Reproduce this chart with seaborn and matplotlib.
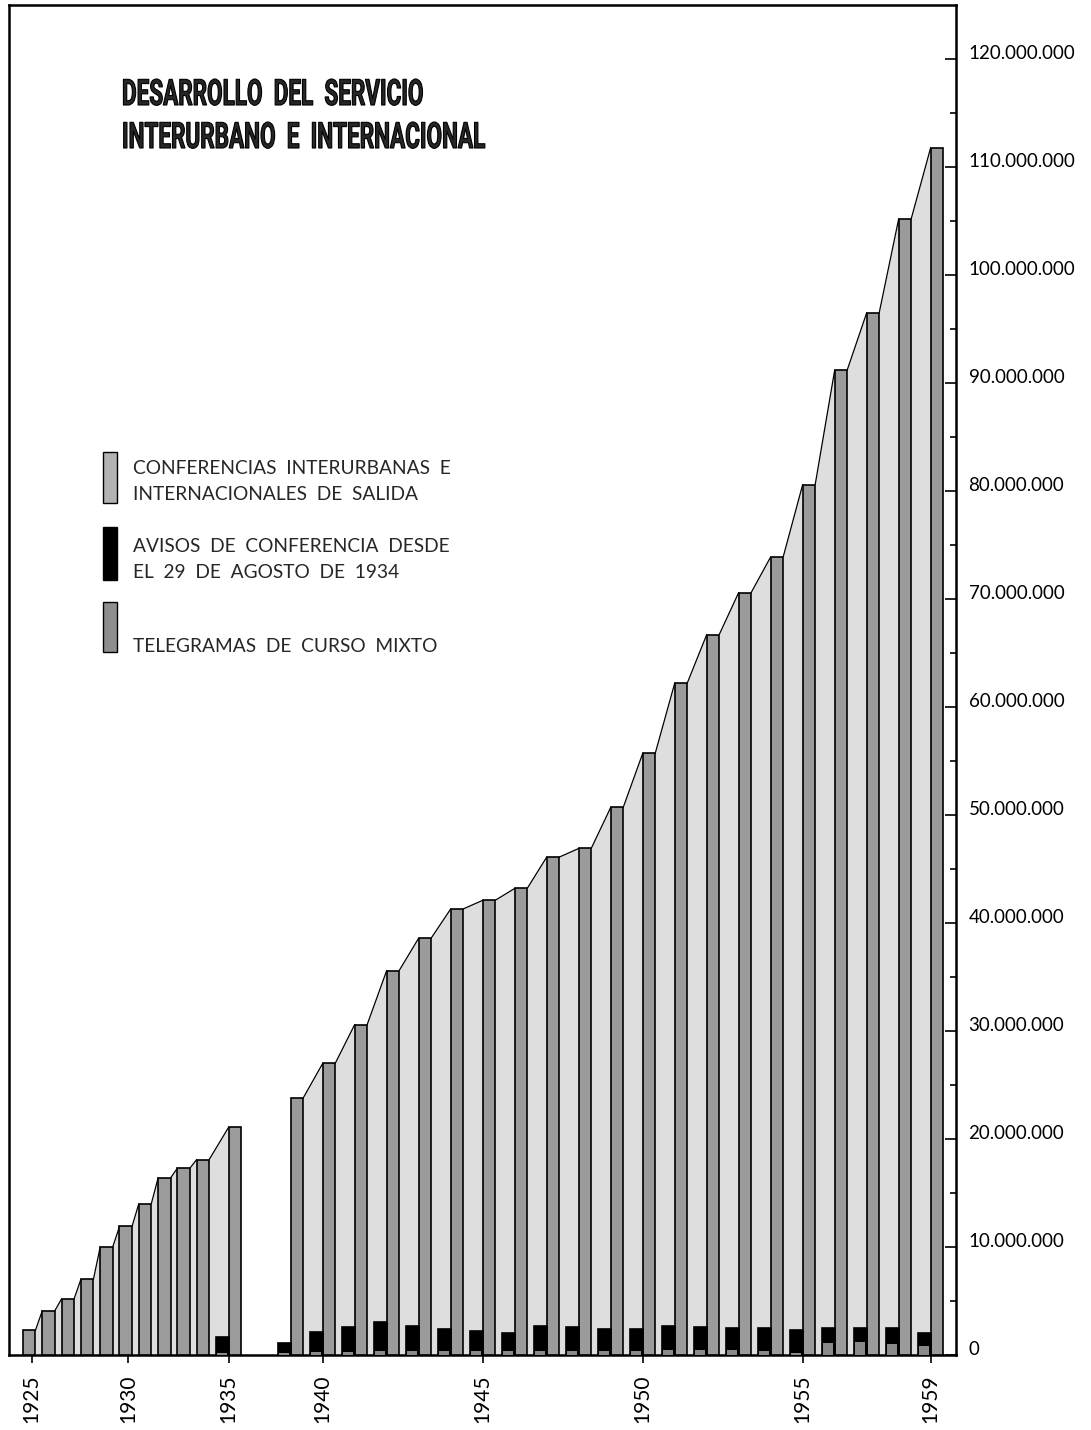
import numpy as np
import pandas as pd
import matplotlib
matplotlib.use("Agg")
import matplotlib.pyplot as plt
import seaborn as sns
from matplotlib.patches import Rectangle
from matplotlib import patheffects
from matplotlib.transforms import Affine2D

# -------------------------------
# Datos (millones)
# -------------------------------
anios = [1925, 1926, 1927, 1928, 1929, 1930, 1931, 1932, 1933, 1934, 1935,
         1939, 1940, 1941, 1942, 1943, 1944, 1945, 1946, 1947, 1948, 1949,
         1950, 1951, 1952, 1953, 1954, 1955, 1956, 1957, 1958, 1959]
conferencias = [2.3, 4.1, 5.2, 7.0, 10.0, 11.9, 14.0, 16.4, 17.3, 18.1, 21.1,
                23.8, 27.0, 30.6, 35.6, 38.6, 41.3, 42.1, 43.2, 46.1, 46.9, 50.7,
                55.7, 62.2, 66.7, 70.6, 73.9, 80.6, 91.2, 96.5, 105.2, 111.8]
avisos = [0, 0, 0, 0, 0, 0, 0, 0, 0, 0, 1.7,
          1.1, 2.1, 2.6, 3.1, 2.7, 2.4, 2.2, 2.0, 2.7, 2.6, 2.4,
          2.4, 2.7, 2.6, 2.5, 2.5, 2.3, 2.5, 2.5, 2.5, 2.0]
telegramas = [0, 0, 0, 0, 0, 0, 0, 0, 0, 0, 0.2,
              0.2, 0.3, 0.3, 0.4, 0.4, 0.4, 0.4, 0.4, 0.4, 0.4, 0.4,
              0.4, 0.5, 0.5, 0.5, 0.4, 0.2, 1.1, 1.2, 1.0, 0.8]
anios_marcados = [1925, 1930, 1935, 1940, 1945, 1950, 1955, 1959]

titulo = ["DESARROLLO  DEL  SERVICIO", "INTERURBANO  E  INTERNACIONAL"]
leyenda = [["CONFERENCIAS  INTERURBANAS  E", "INTERNACIONALES  DE  SALIDA"],
           ["AVISOS  DE  CONFERENCIA  DESDE", "EL  29  DE  AGOSTO  DE  1934"],
           ["TELEGRAMAS  DE  CURSO  MIXTO"]]

# -------------------------------
# Estilo y medidas (pixeles)
# -------------------------------
W, H, DPI = 1091, 1430, 100
BAR_W, GAP, AV_W, GUERRA = 12.5, 6.8, 12.7, 30.0
C_CONF, C_AREA, C_TELEG = "#9b9b9b", "#dedede", "#8a8a8a"

sns.set_theme(style="ticks")
plt.rcParams["font.family"] = ["Lato", "DejaVu Sans"]

# posicion izquierda de cada barra grande
lefts = []
x = 23.0
for i, a in enumerate(anios):
    if i > 0:
        x += BAR_W + GAP + (AV_W if avisos[i] > 0 else 0)
        if a - anios[i - 1] > 1:
            x += GUERRA
    lefts.append(x)

df = pd.DataFrame({"anio": anios, "conf": conferencias, "avisos": avisos,
                   "teleg": telegramas, "left": lefts})
df["x_conf"] = df["left"] + BAR_W / 2
df["x_av"] = df["left"] - AV_W / 2

fig = plt.figure(figsize=(W / DPI, H / DPI), dpi=DPI)
ax = fig.add_axes([9 / W, 1 - 1355 / H, (956 - 9) / W, 1350 / H])

# area clara entre barras
for i in range(1, len(df)):
    if anios[i] - anios[i - 1] > 1:
        continue
    x0, x1 = lefts[i - 1] + BAR_W, lefts[i]
    y0, y1 = conferencias[i - 1], conferencias[i]
    ax.fill_between([x0, x1], [y0, y1], color=C_AREA, lw=0, zorder=1)
    ax.plot([x0, x1], [y0, y1], color="black", lw=0.9, zorder=2)


def barras(sub, xcol, ycol, ancho, color, z, lw=1.2):
    paso = np.diff(np.sort(sub[xcol].to_numpy())).min()
    sns.barplot(data=sub, x=xcol, y=ycol, native_scale=True, width=ancho / paso,
                color=color, saturation=1, edgecolor="black", linewidth=lw,
                errorbar=None, ax=ax, zorder=z)


barras(df, "x_conf", "conf", BAR_W, C_CONF, 3)
barras(df[df["avisos"] > 0], "x_av", "avisos", AV_W, "black", 4)
barras(df[df["teleg"] > 0], "x_av", "teleg", 10, C_TELEG, 5, lw=0)

ax.set_xlim(9, 956)
ax.set_ylim(0, 125)
ax.set_xlabel("")
ax.set_ylabel("")

# -------------------------------
# Ejes
# -------------------------------
pos_ticks = []
for a in anios_marcados:
    fila = df[df["anio"] == a].iloc[0]
    if fila["avisos"] > 0:
        pos_ticks.append(fila["left"] + (BAR_W - AV_W) / 2)
    else:
        pos_ticks.append(fila["left"] + BAR_W * 0.7)
ax.set_xticks(pos_ticks)
ax.set_xticklabels([str(a) for a in anios_marcados], rotation=90, fontsize=15)
ax.tick_params(axis="x", direction="out", length=6, width=1.2, pad=8, colors="black")

ax.yaxis.tick_right()
vals = np.arange(0, 121, 10)
ax.set_yticks(vals)
ax.set_yticks(np.arange(5, 125, 10), minor=True)
ax.set_yticklabels(["0" if v == 0 else f"{int(v * 1_000_000):,}".replace(",", ".") for v in vals])
ax.tick_params(axis="y", which="major", direction="in", length=8, width=1.2, pad=9,
               labelsize=13.5, colors="black")
ax.tick_params(axis="y", which="minor", direction="in", length=4, width=1.2, colors="black")
for lab in ax.get_yticklabels():
    lab.set_va("baseline")

for s in ax.spines.values():
    s.set_visible(True)
    s.set_linewidth(1.8)
    s.set_color("black")


# -------------------------------
# Titulo y leyenda
# -------------------------------
class Estrecho(patheffects.AbstractPathEffect):
    """Comprime el texto en horizontal y lo engruesa con un trazo."""

    def __init__(self, sx, x0, grosor=0.8):
        super().__init__()
        self.sx, self.x0, self.grosor = sx, x0, grosor

    def draw_path(self, renderer, gc, tpath, affine, rgbFace=None):
        t = affine + Affine2D().translate(-self.x0, 0).scale(self.sx, 1).translate(self.x0, 0)
        gc0 = renderer.new_gc()
        gc0.copy_properties(gc)
        gc0.set_linewidth(self.grosor)
        gc0.set_foreground("black")
        renderer.draw_path(gc0, tpath, t, rgbFace)
        gc0.restore()


renderer = fig.canvas.get_renderer()
t1 = fig.text(122 / W, 1 - 105 / H, titulo[0], fontsize=26, fontweight="bold",
              family=["Roboto", "DejaVu Sans"], ha="left", va="baseline")
t2 = fig.text(122 / W, 1 - 148 / H, titulo[1], fontsize=26, fontweight="bold",
              family=["Roboto", "DejaVu Sans"], ha="left", va="baseline")
sx = 363 / t2.get_window_extent(renderer=renderer).width
for t in (t1, t2):
    t.set_path_effects([Estrecho(sx, 122)])

swatches = [(452, 503, "#b3b3b3"), (527, 580, "black"), (602, 652, "#8e8e8e")]
for y0, y1, c in swatches:
    fig.add_artist(Rectangle((103 / W, 1 - y1 / H), 14 / W, (y1 - y0) / H,
                             transform=fig.transFigure, facecolor=c,
                             edgecolor="black", lw=1))
lineas_y = [[468, 494], [546, 572], [647]]
for textos, ys in zip(leyenda, lineas_y):
    for txt, y in zip(textos, ys):
        fig.text(133 / W, 1 - y / H, txt, fontsize=13.8, ha="left", va="center")

fig.savefig("out.png", dpi=DPI)
